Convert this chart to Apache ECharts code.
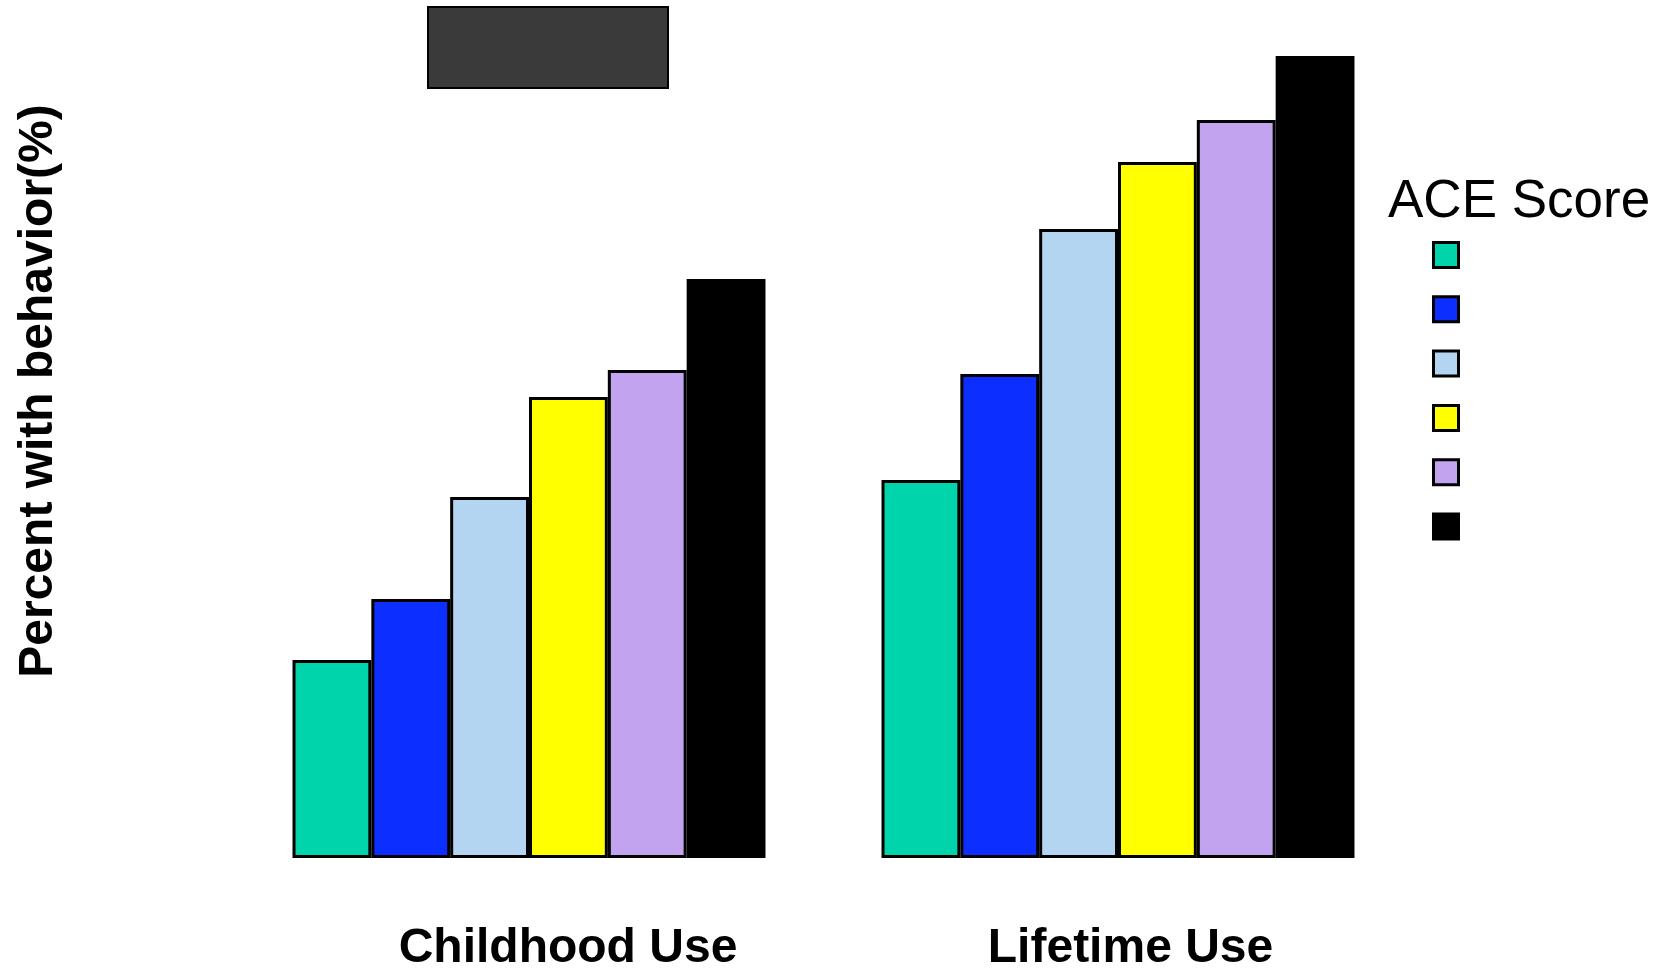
<!DOCTYPE html>
<html>
<head>
<meta charset="utf-8">
<script src="https://cdn.jsdelivr.net/npm/echarts@6/dist/echarts.min.js"></script>
<style>
html,body{margin:0;padding:0;background:#fff;}
#chart{width:1667px;height:968px;}
</style>
</head>
<body>
<div id="chart"></div>
<script>
const categories = ['Childhood Use', 'Lifetime Use'];
const seriesNames = ['ACE 0', 'ACE 1', 'ACE 2', 'ACE 3', 'ACE 4', 'ACE 5+'];
const ace0 = [19.8, 37.8];
const ace1 = [25.9, 48.4];
const ace2 = [36.1, 62.9];
const ace3 = [46.1, 69.6];
const ace4 = [48.8, 73.8];
const ace5 = [57.9, 80.2];
const colors = ['#00d4aa', '#0c2eff', '#b4d5f2', '#ffff00', '#c2a3ef', '#000000'];

const values = [ace0, ace1, ace2, ace3, ace4, ace5];
const chart = echarts.init(document.getElementById('chart'), null, {renderer: 'canvas'});

const series = values.map((v, i) => ({
  name: seriesNames[i],
  type: 'bar',
  data: v,
  barGap: '0%',
  barCategoryGap: '19.7%',
  itemStyle: {color: colors[i], borderColor: '#000', borderWidth: 3},
  emphasis: {disabled: true}
}));

chart.setOption({
  animation: false,
  backgroundColor: '#ffffff',
  textStyle: {fontFamily: 'Liberation Sans, Arial, sans-serif'},
  title: [{
    text: 'ACE Score',
    left: 1388,
    top: 176,
    padding: 0,
    textStyle: {fontSize: 53, fontWeight: 'normal', color: '#000', fontFamily: 'Liberation Sans'}
  }],
  legend: {
    orient: 'vertical',
    left: 1432,
    top: 241,
    padding: 0,
    itemWidth: 25,
    itemHeight: 25,
    itemGap: 26.3,
    icon: 'rect',
    data: seriesNames,
    formatter: function () { return ''; },
    itemStyle: {borderColor: '#000', borderWidth: 3},
    textStyle: {fontSize: 10}
  },
  graphic: [{
    type: 'rect',
    shape: {x: 428, y: 7, width: 240, height: 81},
    style: {fill: '#3a3a3a', stroke: '#000', lineWidth: 2}
  }],
  grid: {left: 234.5, right: 254.5, top: 8, bottom: 110, containLabel: false, outerBoundsMode: 'none'},
  xAxis: {
    type: 'category',
    data: categories,
    axisLine: {show: false},
    axisTick: {show: false},
    axisLabel: {
      margin: 67,
      formatter: function (val) {
        return val === 'Childhood Use' ? '{a|' + val + '}' : '{b|' + val + '}';
      },
      rich: {
        a: {fontSize: 48, fontWeight: 'bold', color: '#000', fontFamily: 'Liberation Sans', padding: [0, 0, 0, 78]},
        b: {fontSize: 48, fontWeight: 'bold', color: '#000', fontFamily: 'Liberation Sans', padding: [0, 0, 0, 25]}
      }
    }
  },
  yAxis: {
    type: 'value',
    min: 0,
    max: 85,
    axisLine: {show: false},
    axisTick: {show: false},
    axisLabel: {show: false},
    splitLine: {show: false},
    name: 'Percent with behavior(%)',
    nameLocation: 'middle',
    nameGap: 172,
    nameTextStyle: {fontSize: 48, fontWeight: 'bold', color: '#000', fontFamily: 'Liberation Sans', padding: [0, 0, 0, 84]}
  },
  series: series
});
</script>
</body>
</html>
